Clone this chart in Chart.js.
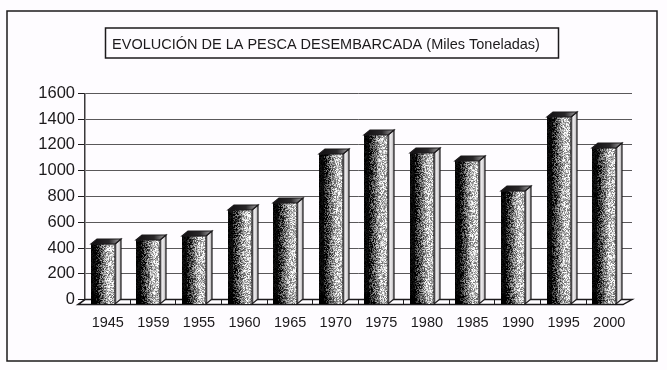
<!DOCTYPE html>
<html lang="es">
<head>
    <meta charset="UTF-8">
    <title>Evolución de la pesca desembarcada</title>
    <script src="https://cdn.jsdelivr.net/npm/chart.js"></script>
    <style>
        html, body { margin: 0; padding: 0; background: #fefcff; }
        #wrap { position: relative; width: 667px; height: 370px; }
    </style>
</head>
<body>
    <div id="wrap"><canvas id="graph" width="667" height="370"></canvas></div>

    <script>
        const titleText = 'EVOLUCIÓN DE LA PESCA DESEMBARCADA (Miles Toneladas)';
        const years = ['1945', '1959', '1955', '1960', '1965', '1970', '1975', '1980', '1985', '1990', '1995', '2000'];
        const landings = [470, 500, 535, 735, 790, 1170, 1315, 1180, 1115, 885, 1455, 1215];
        const yTicks = [0, 200, 400, 600, 800, 1000, 1200, 1400, 1600];

        const ink = '#1c1a1c';
        const paper = '#fefcff';
        const dx = 6, dy = 5;   // depth of the fake 3D

        // cheap repeatable grain for the photocopied shading
        function grain(x, y) {
            const s = Math.sin(x * 12.9898 + y * 78.233) * 43758.5453;
            return s - Math.floor(s);
        }

        function grey(v) {
            const g = Math.max(0, Math.min(255, Math.round(v)));
            return 'rgb(' + g + ',' + g + ',' + g + ')';
        }

        const frame = {
            id: 'frame',
            beforeDraw(chart) {
                const c = chart.ctx;
                c.save();
                c.strokeStyle = ink;
                c.lineWidth = 1.5;
                c.strokeRect(7, 11, 650, 350);
                c.strokeRect(105.5, 28, 453, 30);
                c.restore();
            }
        };

        const floor3d = {
            id: 'floor3d',
            beforeDatasetsDraw(chart) {
                const c = chart.ctx, a = chart.chartArea, y0 = chart.scales.y.getPixelForValue(0);
                const xs = chart.scales.x;
                c.save();
                c.strokeStyle = ink;
                c.fillStyle = paper;
                c.lineWidth = 1.5;
                c.beginPath();
                c.moveTo(a.left, y0);
                c.lineTo(a.right, y0);
                c.lineTo(a.right - dx - 3, y0 + dy);
                c.lineTo(a.left - dx - 1, y0 + dy);
                c.closePath();
                c.fill();
                c.stroke();
                // brick marks across the floor, one per gap between bars
                c.lineWidth = 1;
                years.slice(0, -1).forEach((y, i) => {
                    const x = Math.round(xs.getPixelForValue(i)) + 22.5;
                    c.beginPath();
                    c.moveTo(x, y0);
                    c.lineTo(x, y0 + dy);
                    c.stroke();
                });
                c.restore();
            }
        };

        const bars3d = {
            id: 'bars3d',
            beforeDatasetDraw(chart) {
                chart.ctx.save();
                chart.ctx.translate(-dx + 1, dy);
            },
            afterDatasetDraw(chart) {
                const c = chart.ctx;
                chart.getDatasetMeta(0).data.forEach(bar => {
                    const l = Math.round(bar.x - bar.width / 2), r = Math.round(bar.x + bar.width / 2);
                    const t = Math.round(bar.y), b = Math.round(bar.base);
                    // front face: black on the left, speckled towards light grey
                    for (let x = l; x < r; x++) {
                        const u = (x - l) / (r - l);
                        const base = u < 0.2 ? 8 : Math.min(195, 8 + (u - 0.2) * 375);
                        const spread = u < 0.2 ? 15 : 85;
                        for (let y = t; y < b; y++) {
                            // the shading sinks a little near the floor
                            const sink = (b - y) < 14 ? (14 - (b - y)) * 2 : 0;
                            c.fillStyle = grey(base - sink + (grain(x, y) - 0.5) * spread * 2);
                            c.fillRect(x, y, 1, 1);
                        }
                    }
                    // side face
                    const side = c.createLinearGradient(r, 0, r + dx, 0);
                    side.addColorStop(0, '#777577');
                    side.addColorStop(0.45, '#f2f0f2');
                    side.addColorStop(1, '#a8a6a8');
                    c.fillStyle = side;
                    c.strokeStyle = ink;
                    c.lineWidth = 1.2;
                    c.beginPath();
                    c.moveTo(r, t);
                    c.lineTo(r + dx, t - dy);
                    c.lineTo(r + dx, b - dy);
                    c.lineTo(r, b);
                    c.closePath();
                    c.fill();
                    c.stroke();
                    // top face
                    const top = c.createLinearGradient(l, 0, r + dx, 0);
                    top.addColorStop(0, '#0e0c0e');
                    top.addColorStop(0.6, '#2a282a');
                    top.addColorStop(1, '#a8a6a8');
                    c.fillStyle = top;
                    c.beginPath();
                    c.moveTo(l, t);
                    c.lineTo(l + dx, t - dy);
                    c.lineTo(r + dx, t - dy);
                    c.lineTo(r, t);
                    c.closePath();
                    c.fill();
                    c.stroke();
                });
                c.restore();
            }
        };

        new Chart(document.getElementById('graph').getContext('2d'), {
            type: 'bar',
            data: {
                labels: years,
                datasets: [{
                    data: landings,
                    backgroundColor: 'rgba(0,0,0,0)',
                    barThickness: 24
                }]
            },
            options: {
                responsive: false,
                animation: false,
                layout: { padding: { left: 20, right: 35, top: 10, bottom: 23 } },
                plugins: {
                    legend: { display: false },
                    tooltip: { enabled: false },
                    title: {
                        display: true,
                        text: titleText,
                        color: ink,
                        font: { family: '"Liberation Sans", Arial, sans-serif', size: 14.5, weight: 'normal' },
                        padding: { top: 26, bottom: 40 }
                    }
                },
                scales: {
                    x: {
                        grid: { display: false, drawTicks: false },
                        border: { display: false },
                        ticks: {
                            color: ink,
                            font: { family: '"Liberation Sans", Arial, sans-serif', size: 14.5 },
                            padding: 15,
                            maxRotation: 0,
                            autoSkip: false
                        }
                    },
                    y: {
                        min: 0,
                        max: 1600,
                        afterBuildTicks(axis) { axis.ticks = yTicks.map(v => ({ value: v })); },
                        afterFit(axis) { axis.width = 65; },
                        grid: { color: '#5a585a', lineWidth: 1, tickColor: ink, tickLength: 7, tickBorderDash: [], borderDash: [42, 2] },
                        border: { display: true, color: '#3a383a', width: 1.5, dash: [] },
                        ticks: {
                            color: ink,
                            font: { family: '"Liberation Sans", Arial, sans-serif', size: 16.5 },
                            padding: 3,
                            callback: v => String(v)
                        }
                    }
                }
            },
            plugins: [frame, floor3d, bars3d]
        });
    </script>
</body>
</html>
